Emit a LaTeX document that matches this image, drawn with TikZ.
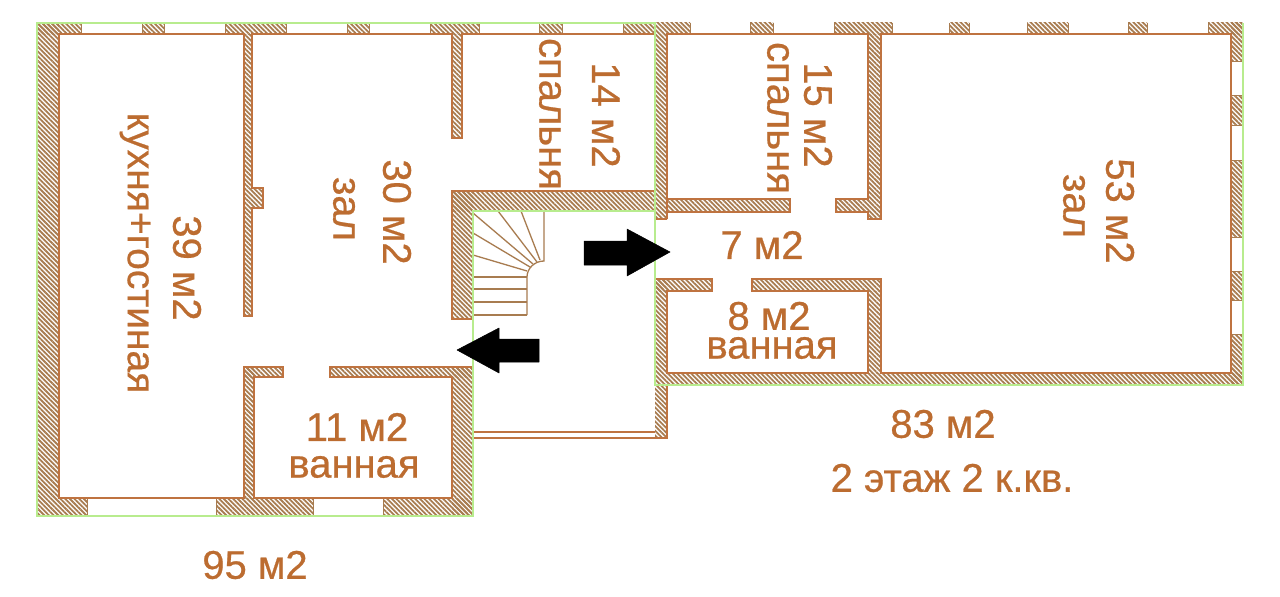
\documentclass[tikz,border=0pt]{standalone}
\usepackage{fontspec}
\setmainfont{Liberation Sans}[RawFeature={embolden=0.6}]
\usetikzlibrary{patterns.meta}
\definecolor{brick}{HTML}{BC6C30}
\definecolor{edge}{HTML}{BF7340}
\definecolor{hatch}{HTML}{A87C50}
\definecolor{limeline}{HTML}{B8EC8E}
\tikzset{
  x=1pt,y=-1pt,
  hatched/.style={pattern={Lines[angle=-45,distance=3.3pt,line width=1.8pt]},pattern color=hatch},
  outline/.style={draw=edge,line width=1.5pt,line join=miter},
  sideline/.style={draw=hatch,line width=1pt},
  limewall/.style={draw=limeline,line width=2.4pt},
  stairline/.style={draw=hatch,line width=1.3pt},
  label/.style={text=brick,font=\fontsize{40}{40}\selectfont,inner sep=0pt,anchor=center},
  vlabel/.style={label,rotate=-90},
  bigarrow/.style={fill=black,draw=black,line width=.5pt,line join=round},
}
\begin{document}
\begin{tikzpicture}
\useasboundingbox (0,0) rectangle (1280,597);
\fill[white] (0,0) rectangle (1280,597);
% hatched walls
\foreach \a/\b/\c/\d in {
 37/23/59/516, 37/23/81/34, 142/23/164/34, 225/23/286/34, 347/23/369/34, 430/23/479/34, 539/23/562/34, 623/23/655/34,
 244/34/252/316, 252/188/263/208, 452/34/462/138, 452/191/655/211, 452/191/473/319,
 655/22/667/219, 667/22/690/34, 750/22/773/34, 834/22/892/34, 949/22/969/34, 1027/22/1068/34, 1128/22/1147/34, 1208/22/1243/34,
 868/34/881/219, 667/199/790/212, 836/199/868/212,
 655/279/712/291, 752/279/881/291, 655/279/667/438, 868/291/881/373, 667/373/1243/385,
 1231/22/1243/61, 1231/95/1243/125, 1231/160/1243/237, 1231/271/1243/300, 1231/334/1243/385,
 59/498/87/516, 216/498/313/516, 383/498/473/516, 244/367/254/498, 244/367/283/377, 330/367/473/377, 452/367/473/516}
 {\path[hatched] (\a,\b) rectangle (\c,\d);}
% window piers: side lines
\foreach \a in {81,142,164,225,286,347,369,430,479,539,562,623,690,750,773,834,892,949,969,1027,1068,1128,1147,1208}
 {\draw[sideline] (\a,23) -- (\a,34);}
\foreach \a in {87,216,313,383}
 {\draw[sideline] (\a,498) -- (\a,516);}
\foreach \b in {61,95,125,160,237,271,300,334}
 {\draw[sideline] (1231,\b) -- (1243,\b);}
% wall outlines, left flat
\draw[outline] (655,34) -- (462,34) -- (462,138) -- (452,138) -- (452,34) -- (252,34) -- (252,188) -- (263,188) -- (263,208) -- (252,208) -- (252,316) -- (244,316) -- (244,34) -- (59,34)
  -- (59,498) -- (244,498) -- (244,367) -- (283,367) -- (283,377) -- (254,377) -- (254,498) -- (452,498) -- (452,377) -- (330,377) -- (330,367) -- (473,367);
\draw[outline] (655,191) -- (452,191) -- (452,319) -- (473,319);
% wall outlines, right flat
\draw[outline] (667,219) -- (667,34) -- (868,34) -- (868,199) -- (836,199) -- (836,212) -- (868,212) -- (868,219) -- (881,219) -- (881,34) -- (1231,34) -- (1231,373) -- (881,373) -- (881,279) -- (752,279) -- (752,291) -- (868,291) -- (868,373) -- (667,373) -- (667,291) -- (712,291) -- (712,279) -- (655,279);
\draw[outline] (667,199) -- (790,199) -- (790,212) -- (667,212);
\draw[outline] (655,219) -- (667,219);
\draw[outline] (667,385) -- (667,438) -- (655,438);
% stair landing
\draw[outline] (473,432) -- (655,432);
\draw[outline] (473,438) -- (655,438);
% stairs
\draw[stairline] (473,315) -- (527,315) (473,302) -- (527,302) (473,289) -- (527,289) (473,277) -- (527,277);
\draw[stairline] (473,255) -- (527,271) (473,233) -- (530,267) (473,213) -- (533,264) (498,211) -- (537,262) (521,211) -- (540,260);
\draw[stairline] (527,315) -- (527,277) .. controls (527,268) and (535,261) .. (544,261) -- (544,211);
% flat boundaries
\draw[limewall] (37,23) -- (655,23) -- (655,211) -- (473,211) -- (473,516) -- (37,516) -- cycle;
\draw[limewall] (655,211) -- (655,385) -- (1243,385) -- (1243,23);
% arrows
\path[bigarrow] (584,241) -- (627,241) -- (627,229) -- (670,252) -- (627,276) -- (627,265) -- (584,265) -- cycle;
\path[bigarrow] (539,339) -- (499,339) -- (499,328) -- (457,350) -- (499,373) -- (499,362) -- (539,362) -- cycle;
% labels
\node[vlabel,font=\fontsize{39}{39}\selectfont] (kitchen) at (135,253) {кухня+гостиная};
\node[vlabel] (a39) at (187,268) {39 м2};
\node[vlabel] (hallL) at (344,209) {зал};
\node[vlabel] (a30) at (397,212) {30 м2};
\node[vlabel] (bedA) at (550,114) {спальня};
\node[vlabel] (a14) at (606,115) {14 м2};
\node[vlabel] (bedB) at (778,118) {спальня};
\node[vlabel] (a15) at (818,115) {15 м2};
\node[label] (a7) at (762,245) {7 м2};
\node[vlabel] (a53) at (1120,211) {53 м2};
\node[vlabel] (hallR) at (1074,206) {зал};
\node[label] (a8) at (769,316) {8 м2};
\node[label] (bathB) at (772,348) {ванная};
\node[label] (a11) at (357,427) {11 м2};
\node[label] (bathA) at (354,467) {ванная};
\node[label] (a83) at (943,424) {83 м2};
\node[label] (floor) at (952,478) {2 этаж 2 к.кв.};
\node[label] (a95) at (255,565) {95 м2};
\end{tikzpicture}
\end{document}
